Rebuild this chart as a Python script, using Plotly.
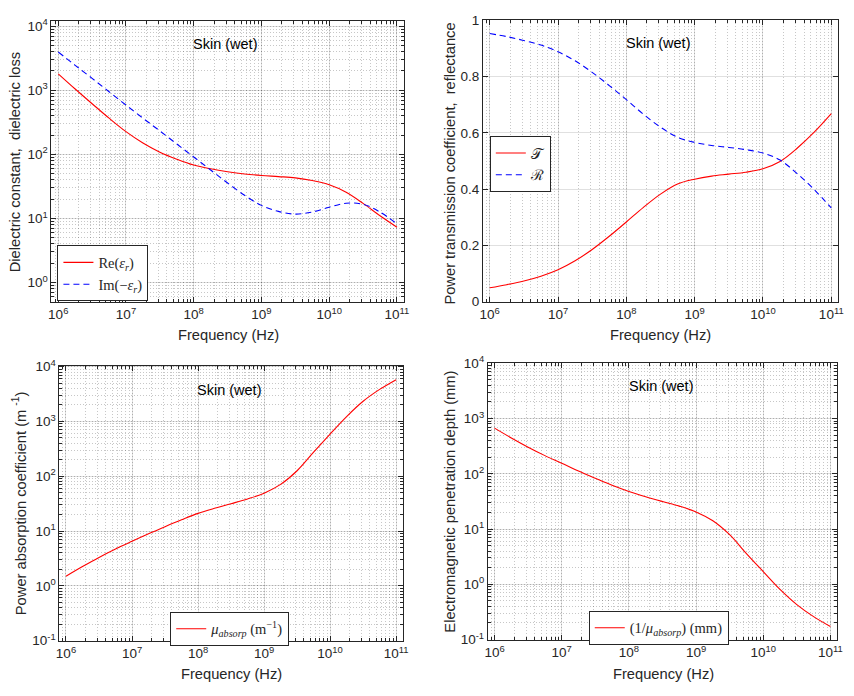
import plotly.graph_objects as go

# ---------------- data ----------------
freq_hz = [1.0e6, 1.778e6, 3.162e6, 5.623e6, 1.0e7, 1.778e7, 3.162e7, 5.623e7,
           1.0e8, 1.778e8, 3.162e8, 5.623e8, 1.0e9, 1.778e9, 3.162e9, 5.623e9,
           1.0e10, 1.778e10, 3.162e10, 5.623e10, 1.0e11]

eps_real = [1807, 1047, 617, 367, 226, 150, 108, 84, 68, 59.5, 53.7, 49.5, 46.8,
            45, 43, 39, 33.6, 25.7, 17.2, 11, 7.3]
eps_loss = [3960, 2450, 1535, 948, 587, 367, 232, 145, 91, 57, 35.7, 23, 16,
            12.9, 11.7, 12.6, 15, 17.3, 16.6, 12.6, 8.2]

trans = [0.049, 0.06, 0.073, 0.09, 0.113, 0.145, 0.185, 0.232, 0.283, 0.335, 0.382,
         0.418, 0.435, 0.446, 0.453, 0.46, 0.472, 0.498, 0.545, 0.602, 0.668]
refl = [0.953, 0.942, 0.928, 0.912, 0.888, 0.856, 0.815, 0.768, 0.718, 0.666, 0.62,
        0.584, 0.566, 0.555, 0.548, 0.54, 0.528, 0.503, 0.455, 0.398, 0.333]

mu_absorp = [1.5, 2.25, 3.3, 4.7, 6.5, 8.9, 12, 16, 21, 26, 31.5, 38.5, 49, 71, 126,
             275, 590, 1230, 2340, 3850, 5800]
depth_mm = [670, 445, 303, 213, 155, 112, 83, 62, 48, 38.5, 31.5, 26, 20.4, 14.1,
            7.9, 3.6, 1.7, 0.81, 0.43, 0.26, 0.172]

x_tick_vals = [1e6, 1e7, 1e8, 1e9, 1e10, 1e11]
x_tick_text = ["10<sup>6</sup>", "10<sup>7</sup>", "10<sup>8</sup>", "10<sup>9</sup>",
               "10<sup>10</sup>", "10<sup>11</sup>"]
y1_tick_vals = [1, 10, 100, 1000, 10000]
y1_tick_text = ["10<sup>0</sup>", "10<sup>1</sup>", "10<sup>2</sup>", "10<sup>3</sup>", "10<sup>4</sup>"]
y2_tick_vals = [0, 0.2, 0.4, 0.6, 0.8, 1.0]
y2_tick_text = ["0", "0.2", "0.4", "0.6", "0.8", "1"]
y34_tick_vals = [0.1, 1, 10, 100, 1000, 10000]
y34_tick_text = ["10<sup>-1</sup>", "10<sup>0</sup>", "10<sup>1</sup>", "10<sup>2</sup>",
                 "10<sup>3</sup>", "10<sup>4</sup>"]

panel_label = "Skin (wet)"
x_title = "Frequency (Hz)"
y_titles = ["Dielectric constant,\u00a0\u00a0dielectric loss",
            "Power transmission coefficient,\u00a0\u00a0reflectance",
            "Power absorption coefficient (m <sup>-1</sup>)",
            "Electromagnetic penetration depth (mm)"]

# ---------------- styling ----------------
W, H = 854, 696
RED = "#ff0000"
BLUE = "#0000ff"
AX = "#262626"
SANS = "Liberation Sans, Arial, Helvetica, sans-serif"
SERIF = "Liberation Serif, Times New Roman, DejaVu Serif, serif"
MAJ_GRID = "rgba(0,0,0,0.12)"
MIN_GRID = "rgba(0,0,0,0.22)"

# axes boxes in pixels: (left, right, top, bottom)
boxes = [(49, 405, 12, 300), (485, 844, 11, 300), (57, 404, 365, 647), (490, 843, 362, 646)]
yranges = [[-0.305, 4.085], [-0.002, 1.002], [-1.01, 4.02], [-1.01, 4.01]]
ytypes = ["log", "linear", "log", "log"]
yticks = [(y1_tick_vals, y1_tick_text), (y2_tick_vals, y2_tick_text),
          (y34_tick_vals, y34_tick_text), (y34_tick_vals, y34_tick_text)]
xrange_log = [5.9, 11.1]


def px_dom_x(a, b):
    return [a / W, b / W]


def px_dom_y(top, bot):
    return [1 - bot / H, 1 - top / H]


fig = go.Figure()

line = dict(width=1.1)
DASH = "6px,4px"
fig.add_trace(go.Scatter(x=freq_hz, y=eps_real, mode="lines", line=dict(color=RED, shape="spline", **line),
                         name="Re(<i>ε</i><sub><i>r</i></sub>)", xaxis="x", yaxis="y", legend="legend"))
fig.add_trace(go.Scatter(x=freq_hz, y=eps_loss, mode="lines",
                         line=dict(color=BLUE, dash=DASH, shape="spline", **line),
                         name="Im(−<i>ε</i><sub><i>r</i></sub>)", xaxis="x", yaxis="y", legend="legend"))
fig.add_trace(go.Scatter(x=freq_hz, y=trans, mode="lines", line=dict(color=RED, shape="spline", **line),
                         name="𝒯", xaxis="x2", yaxis="y2", legend="legend2"))
fig.add_trace(go.Scatter(x=freq_hz, y=refl, mode="lines",
                         line=dict(color=BLUE, dash=DASH, shape="spline", **line),
                         name="ℛ", xaxis="x2", yaxis="y2", legend="legend2"))
fig.add_trace(go.Scatter(x=freq_hz, y=mu_absorp, mode="lines", line=dict(color=RED, shape="spline", **line),
                         name="<i>μ</i><sub><i>absorp</i></sub> (m<sup>−1</sup>)", xaxis="x3", yaxis="y3",
                         legend="legend3"))
fig.add_trace(go.Scatter(x=freq_hz, y=depth_mm, mode="lines", line=dict(color=RED, shape="spline", **line),
                         name="(1/<i>μ</i><sub><i>absorp</i></sub>) (mm)", xaxis="x4", yaxis="y4",
                         legend="legend4"))

layout = dict(
    width=W, height=H, margin=dict(l=0, r=0, t=0, b=0),
    paper_bgcolor="white", plot_bgcolor="white",
    font=dict(family=SANS, size=13, color=AX),
    annotations=[],
)

tickfont = dict(family=SANS, size=13.5, color=AX)
minor_log = dict(dtick="D1", ticks="inside", ticklen=3, tickcolor=AX,
                 showgrid=True, gridcolor=MIN_GRID, griddash="1px,2px", gridwidth=1)
for i, (l, r, t, b) in enumerate(boxes):
    n = "" if i == 0 else str(i + 1)
    xa = dict(
        domain=px_dom_x(l, r), anchor="y" + n, type="log", range=xrange_log,
        tickmode="array", tickvals=x_tick_vals, ticktext=x_tick_text,
        showline=True, linecolor=AX, linewidth=1, mirror="allticks",
        ticks="inside", ticklen=5, tickcolor=AX, tickfont=tickfont,
        showgrid=True, gridcolor=MAJ_GRID, gridwidth=1, zeroline=False,
        minor=minor_log,
    )
    tv, tt = yticks[i]
    ya = dict(
        domain=px_dom_y(t, b), anchor="x" + n, type=ytypes[i], range=yranges[i],
        tickmode="array", tickvals=tv, ticktext=tt,
        showline=True, linecolor=AX, linewidth=1, mirror="allticks",
        ticks="inside", ticklen=5, tickcolor=AX, tickfont=tickfont,
        showgrid=True, gridcolor=MAJ_GRID, gridwidth=1, zeroline=False,
    )
    if ytypes[i] == "log":
        ya["minor"] = minor_log
    layout["xaxis" + n] = xa
    layout["yaxis" + n] = ya

# panel labels
label_pos = [(224, 36), (662, 35), (228, 390), (665, 386)]
for (x, y) in label_pos:
    layout["annotations"].append(dict(text=panel_label, x=x / W, y=1 - y / H, xref="paper", yref="paper",
                                      showarrow=False, font=dict(family=SANS, size=14.5, color="black"),
                                      xanchor="center", yanchor="middle"))
# x titles
xt_pos = [(228, 334), (664, 334), (231, 681), (668, 681)]
for (x, y) in xt_pos:
    layout["annotations"].append(dict(text=x_title, x=x / W, y=1 - y / H, xref="paper", yref="paper",
                                      showarrow=False, font=dict(family=SANS, size=14.7, color=AX),
                                      xanchor="center", yanchor="middle"))
# y titles
yt_pos = [(13, 157), (452, 158), (17, 506), (452, 504)]
for (x, y), txt in zip(yt_pos, y_titles):
    layout["annotations"].append(dict(text=txt, x=x / W, y=1 - y / H, xref="paper", yref="paper",
                                      showarrow=False, textangle=-90,
                                      font=dict(family=SANS, size=14.7, color=AX),
                                      xanchor="center", yanchor="middle"))

leg_common = dict(bgcolor="white", bordercolor="#262626", borderwidth=1,
                  font=dict(family=SERIF, size=14.5, color="#262626"),
                  xanchor="left", yanchor="top", xref="paper", yref="paper",
                  tracegroupgap=0, itemwidth=30)
layout["legend"] = dict(x=55 / W, y=1 - 242 / H, **leg_common)
layout["legend2"] = dict(x=492 / W, y=1 - 130 / H, **leg_common)
layout["legend3"] = dict(x=169 / W, y=1 - 617 / H, **leg_common)
layout["legend4"] = dict(x=592 / W, y=1 - 616 / H, **leg_common)
layout["showlegend"] = True

fig.update_layout(**layout)
fig.write_html("out.html")
